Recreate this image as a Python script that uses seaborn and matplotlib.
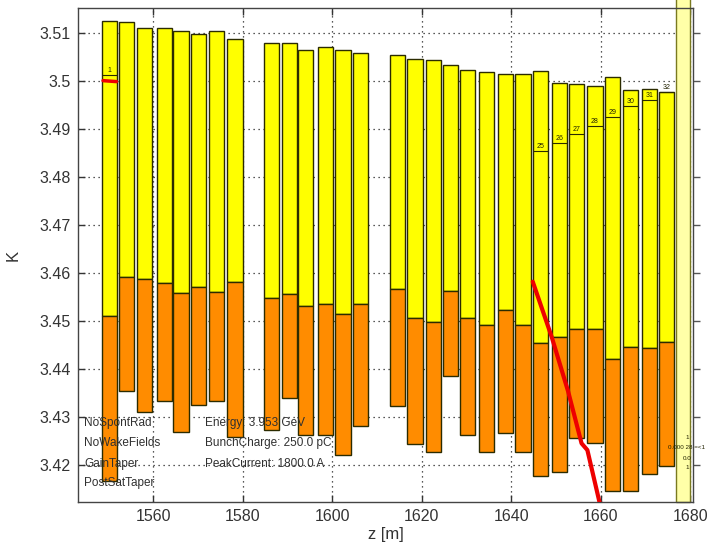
import numpy as np
import pandas as pd
import seaborn as sns
import matplotlib.pyplot as plt
from matplotlib.ticker import FuncFormatter

sns.set_theme(style="white")
plt.rcParams['font.family'] = ['Liberation Sans', 'DejaVu Sans']

# undulator segments: centre position and K range (yellow top / orange lower part)
z_center = [1550.3, 1554.1, 1558.0, 1562.5, 1566.2, 1570.2, 1574.2, 1578.3,
            1586.4, 1590.4, 1594.1, 1598.5, 1602.4, 1606.4,
            1614.5, 1618.5, 1622.7, 1626.5, 1630.3, 1634.5, 1638.7, 1642.6,
            1646.6, 1650.8, 1654.5, 1658.7, 1662.7, 1666.6, 1670.8, 1674.7]
k_top = [3.5124, 3.5121, 3.5109, 3.5109, 3.5104, 3.5097, 3.5104, 3.5087,
         3.5078, 3.5078, 3.5063, 3.5069, 3.5063, 3.5057,
         3.5054, 3.5045, 3.5042, 3.5033, 3.5022, 3.5017, 3.5014, 3.5014,
         3.5020, 3.4996, 3.4993, 3.4989, 3.5007, 3.4981, 3.4983, 3.4977]
k_mid = [3.4511, 3.4591, 3.4588, 3.4579, 3.4558, 3.4572, 3.4560, 3.4581,
         3.4548, 3.4557, 3.4532, 3.4535, 3.4515, 3.4535,
         3.4567, 3.4507, 3.4499, 3.4563, 3.4507, 3.4492, 3.4523, 3.4492,
         3.4455, 3.4468, 3.4484, 3.4484, 3.4421, 3.4446, 3.4444, 3.4456]
k_bot = [3.4167, 3.4354, 3.4312, 3.4333, 3.4270, 3.4326, 3.4333, 3.4260,
         3.4274, 3.4340, 3.4264, 3.4264, 3.4222, 3.4281,
         3.4324, 3.4245, 3.4227, 3.4385, 3.4264, 3.4229, 3.4267, 3.4229,
         3.4178, 3.4187, 3.4258, 3.4246, 3.4147, 3.4147, 3.4182, 3.4199]
seg_width = 3.4

# segment number tags inside some bars
tag_index = [0, 22, 23, 24, 25, 26, 27, 28, 29]
tag_text = ["1", "25", "26", "27", "28", "29", "30", "31", "32"]
tag_k = [3.5012, 3.4853, 3.4870, 3.4889, 3.4906, 3.4924, 3.4948, 3.4959, 3.4977]

# red taper line
red_z = [1644.8, 1649.0, 1652.7, 1655.7, 1657.0, 1659.7]
red_k = [3.4582, 3.4468, 3.4354, 3.4246, 3.4232, 3.4124]
red0_z = [1548.8, 1551.8]
red0_k = [3.5000, 3.4998]

left_notes = ["NoSpontRad", "NoWakeFields", "GainTaper", "PostSatTaper"]
left_notes_k = [3.4289, 3.4247, 3.4203, 3.4163]
right_notes = ["Energy: 3.953 GeV", "BunchCharge: 250.0 pC", "PeakCurrent: 1800.0 A"]
right_notes_k = [3.4289, 3.4247, 3.4203]

df = pd.DataFrame({"z": z_center, "top": k_top, "mid": k_mid, "bot": k_bot})

fig = plt.figure(figsize=(7.14, 5.49), dpi=100)
ax = fig.add_axes([0.1092, 0.0856, 0.9706 - 0.1092, 0.9854 - 0.0856])

edge = "#2b2b00"
ax.bar(df["z"], df["top"] - df["mid"], bottom=df["mid"], width=seg_width,
       color="#ffff00", edgecolor=edge, linewidth=1.0, zorder=2)
ax.bar(df["z"], df["mid"] - df["bot"], bottom=df["bot"], width=seg_width,
       color="#ff8c00", edgecolor=edge, linewidth=1.0, zorder=2)

for i, t, k in zip(tag_index, tag_text, tag_k):
    zc = z_center[i]
    ax.hlines(k, zc - seg_width / 2, zc + seg_width / 2, color=edge, lw=0.8, zorder=3)
    ax.text(zc, k + 0.0002, t, fontsize=5, ha="center", va="bottom", color="#222200",
            zorder=4)

sns.lineplot(x=red_z, y=red_k, ax=ax, color="#ee0000", linewidth=3.0, zorder=5)
sns.lineplot(x=red0_z, y=red0_k, ax=ax, color="#ee0000", linewidth=2.5, zorder=5)

# pale strip at the end of the line
ax.axvspan(1676.8, 1679.9, ymin=0, ymax=1.02, facecolor="#ffffa8",
           edgecolor="#7a7a20", linewidth=1.0, clip_on=False, zorder=2)
for txt, k in zip(["1", "0.000 28 =<1", "0.0", "1"], [3.4259, 3.4238, 3.4215, 3.4196]):
    ax.text(1679.2, k, txt, fontsize=4.5, ha="center", va="center", color="#222200",
            zorder=6, clip_on=False)

for txt, k in zip(left_notes, left_notes_k):
    ax.text(1544.6, k, txt, fontsize=8.5, ha="left", va="center", color="#303030",
            zorder=6)
for txt, k in zip(right_notes, right_notes_k):
    ax.text(1571.6, k, txt, fontsize=8.5, ha="left", va="center", color="#303030",
            zorder=6)

ax.set_xlim(1543.2, 1680.6)
ax.set_ylim(3.4124, 3.5151)
ax.set_xticks(np.arange(1560, 1681, 20))
ax.set_yticks(np.arange(3.42, 3.5101, 0.01))
ax.yaxis.set_major_formatter(FuncFormatter(lambda v, p: "{:g}".format(round(v, 3))))
ax.xaxis.set_major_formatter(FuncFormatter(lambda v, p: "{:g}".format(v)))

ax.grid(True, color="#222222", linestyle=(0, (1, 3)), linewidth=0.9)
ax.set_axisbelow(True)

ax.tick_params(axis="both", direction="in", length=5, width=1, color="#333333",
               labelsize=11.5, labelcolor="#333333", top=True, bottom=True,
               left=True, right=False, pad=5)
sec = ax.secondary_yaxis("right")
sec.set_yticks(np.arange(3.42, 3.5101, 0.01))
sec.tick_params(direction="out", length=5, width=1, color="#555555", labelright=False)
sec.spines["right"].set_visible(False)

for s in ax.spines.values():
    s.set_color("#444444")
    s.set_linewidth(1.0)

ax.set_xlabel("z [m]", fontsize=12, color="#333333", labelpad=2)
ax.set_ylabel("K", fontsize=12, color="#333333", labelpad=14)

fig.savefig("out.png", dpi=100)
